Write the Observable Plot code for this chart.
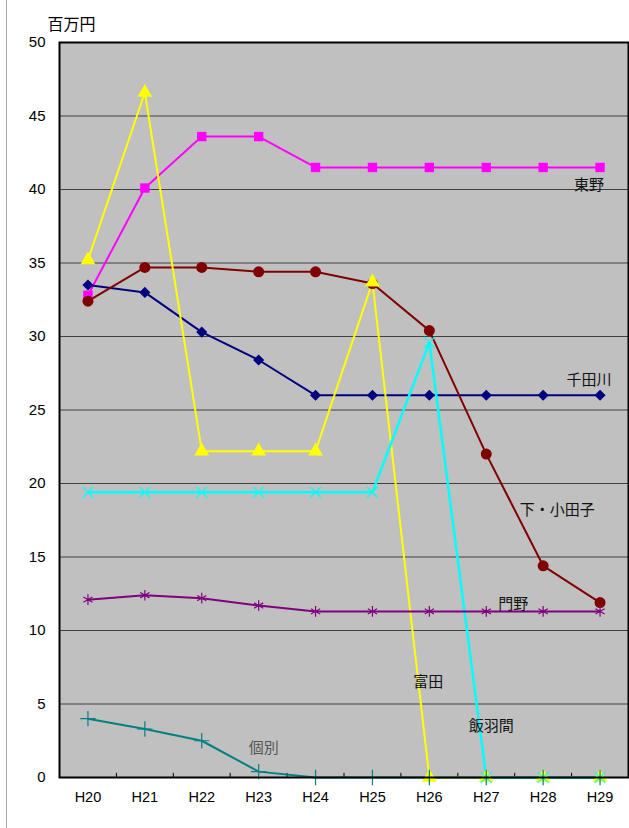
<!DOCTYPE html>
<html><head><meta charset="utf-8">
<script src="https://cdn.jsdelivr.net/npm/d3@7"></script>
<script src="https://cdn.jsdelivr.net/npm/@observablehq/plot@0.6"></script>
<style>
body{margin:0;background:#fff;}
#wrap{position:relative;width:629px;height:828px;}
#edge{position:absolute;left:6px;top:0;width:1px;height:828px;background:#a8a8a8;}
</style></head>
<body><div id="wrap"><div id="edge"></div></div>
<script>
const years = ["H20","H21","H22","H23","H24","H25","H26","H27","H28","H29"];
const higashino   = [32.8,40.1,43.6,43.6,41.5,41.5,41.5,41.5,41.5,41.5];
const sendagawa   = [33.5,33.0,30.3,28.4,26.0,26.0,26.0,26.0,26.0,26.0];
const shimoOdako  = [32.4,34.7,34.7,34.4,34.4,33.6,30.4,22.0,14.4,11.9];
const tomita      = [35.2,46.6,22.2,22.2,22.2,33.7,0,0,0,0];
const iibama      = [19.4,19.4,19.4,19.4,19.4,19.4,29.6,0,0,0];
const kadono      = [12.1,12.4,12.2,11.7,11.3,11.3,11.3,11.3,11.3,11.3];
const kobetsu     = [4.0,3.3,2.5,0.4,0,0,0,0,0,0];
const yTicks = [0,5,10,15,20,25,30,35,40,45,50];

const labelNames = ["東野","千田川","下・小田子","門野","富田","飯羽間","個別"];
const labelX = ["H29","H29","H28","H27","H26","H27","H23"];
const labelY = [40.3,27.0,18.2,11.8,6.5,3.5,2.0];

const series = [
  {name:"東野", values:higashino, color:"#ff00ff", symbol:"square", filled:true, r:5.3},
  {name:"千田川", values:sendagawa, color:"#000080", symbol:"diamond2", filled:true, r:5},
  {name:"下・小田子", values:shimoOdako, color:"#800000", symbol:"circle", filled:true, r:5.5},
  {name:"富田", values:tomita, color:"#ffff00", symbol:"triangle", filled:true, r:5.5},
  {name:"飯羽間", values:iibama, color:"#00ffff", symbol:"times", filled:false, r:5},
  {name:"門野", values:kadono, color:"#800080", symbol:"asterisk", filled:false, r:5},
  {name:"個別", values:kobetsu, color:"#008080", symbol:"plus", filled:false, r:5}
];

const W = 629, H = 828, mL = 59, mR = 1, mT = 42, mB = 51;
const halfStep = (W - mL - mR) / years.length / 2;

const marks = [
  Plot.frame({fill:"#c0c0c0", stroke:null}),
  Plot.ruleY(yTicks, {stroke:"#404040", strokeWidth:1}),
  Plot.ruleX(years.slice(1), {x:d=>d, dx:-halfStep, y1:0, y2:0.28, stroke:"#000"})
];
for (const s of series) {
  const data = years.map((y,i)=>({x:y, v:s.values[i]}));
  marks.push(Plot.line(data, {x:"x", y:"v", stroke:s.color, strokeWidth: s.name==="飯羽間"?2.5:2}));
}
for (const s of series) {
  const data = years.map((y,i)=>({x:y, v:s.values[i]}));
  marks.push(Plot.dot(data, s.filled
    ? {x:"x", y:"v", symbol:()=>s.symbol, fill:s.color, stroke:null, r:s.r}
    : {x:"x", y:"v", symbol:()=>s.symbol, stroke:s.color, fill:"none", strokeWidth:1.2, r:s.r}));
}
const labels = labelNames.map((n,i)=>({n, x:labelX[i], y:labelY[i]}));
const labelDx = [-11,-11,14,27,-1,5,5];
labels.forEach((l,i)=>{
  marks.push(Plot.text([l], {x:"x", y:"y", text:"n", dx:labelDx[i], fontSize:15,
    fontFamily:"'Noto Sans CJK JP',sans-serif",
    fill: l.n==="個別" ? "#555" : "#111"}));
});
marks.push(Plot.axisY(yTicks, {tickSize:0, tickPadding:14, fontSize:15, label:null}));
marks.push(Plot.axisX({tickSize:0, tickPadding:14, fontSize:14.5, label:null}));
marks.push(Plot.text(["百万円"], {frameAnchor:"top-left", textAnchor:"start", dx:-12, dy:-24, fontSize:16,
  fontFamily:"'Noto Sans CJK JP',sans-serif", fill:"#000"}));
marks.push(Plot.frame({stroke:"#000", strokeWidth:2}));

const chart = Plot.plot({
  width:W, height:H, marginLeft:mL, marginRight:mR, marginTop:mT, marginBottom:mB,
  style:{fontFamily:"'Liberation Sans','Noto Sans CJK JP',sans-serif", background:"transparent", color:"#000"},
  x:{type:"point", domain:years, padding:0.5, round:false},
  y:{domain:[0,50]},
  marks
});
document.getElementById("wrap").appendChild(chart);
</script>
</body></html>
